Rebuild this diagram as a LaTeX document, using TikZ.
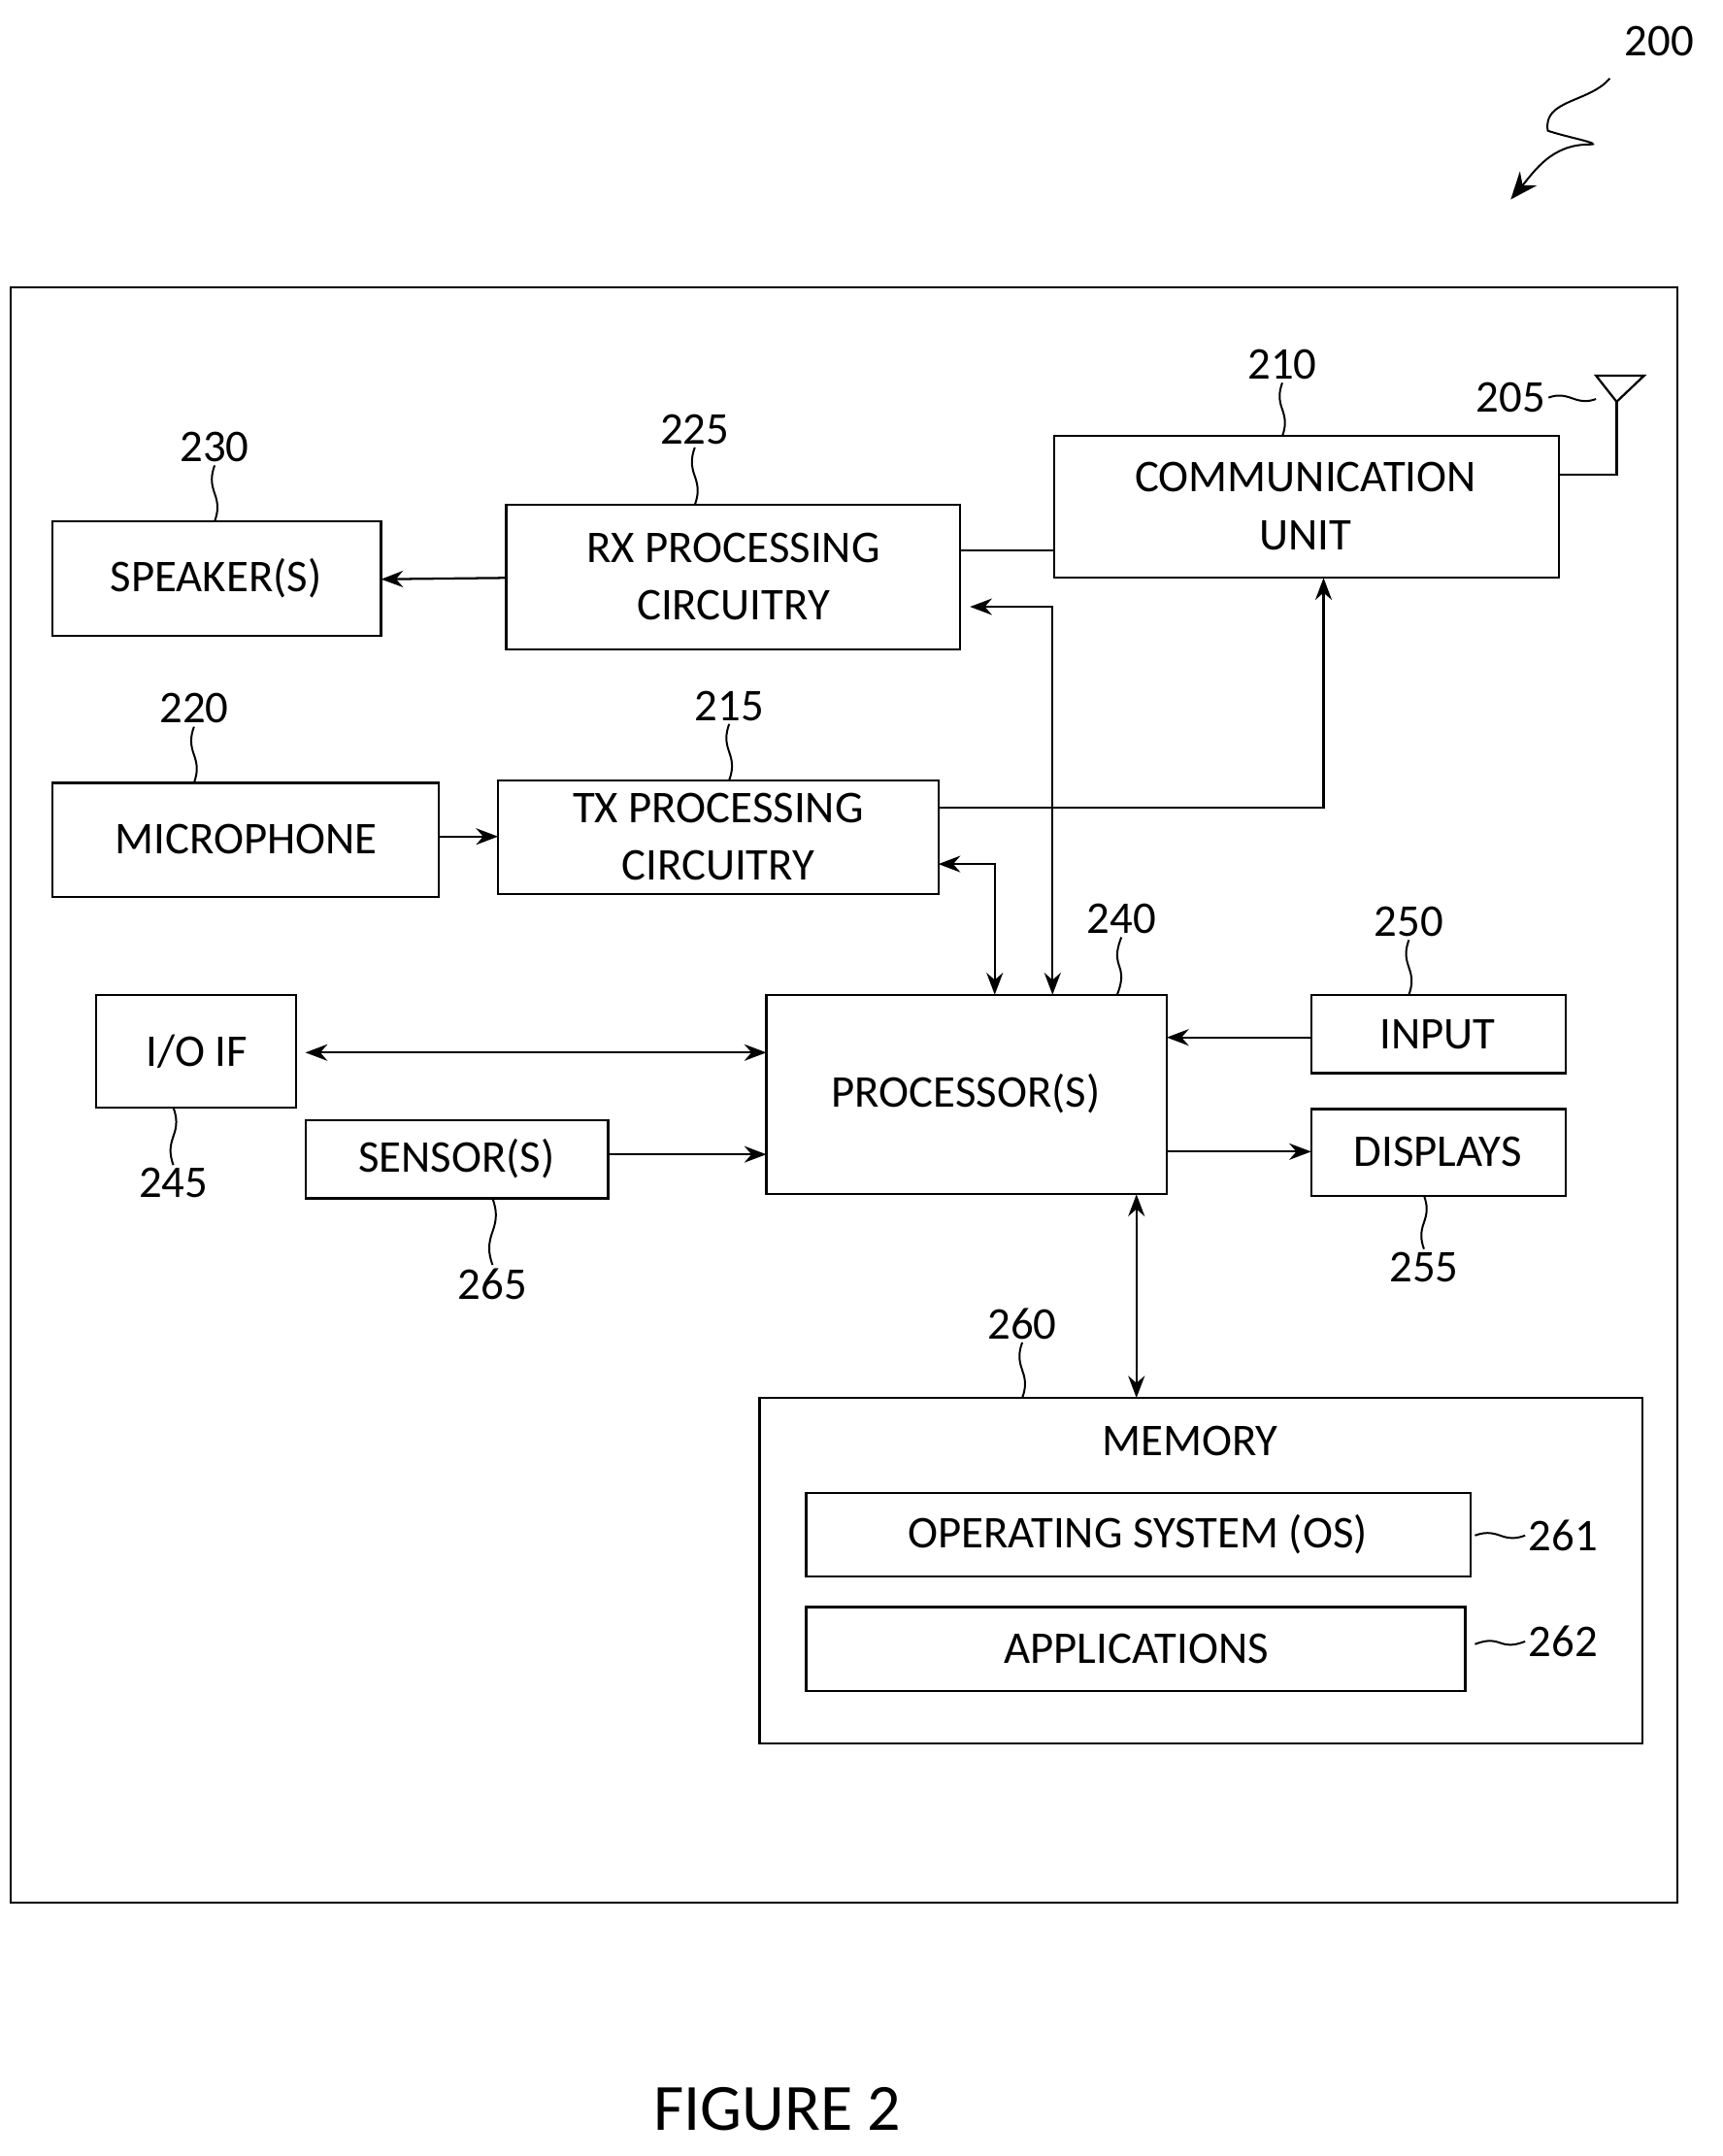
\documentclass[tikz,border=0pt]{standalone}
\usepackage{fontspec}
\setmainfont{Carlito}
\usetikzlibrary{arrows.meta,calc}
\begin{document}
\begin{tikzpicture}[x=0.5pt,y=-0.5pt,
  box/.style={draw,line width=0.8pt},
  txt/.style={font=\fontsize{16.5}{19}\selectfont,align=center},
  lab/.style={font=\fontsize{16.5}{19}\selectfont,inner sep=1pt},
  ar/.style={line width=0.8pt,-{Stealth[length=8pt,width=6pt]}},
  dar/.style={line width=0.8pt,{Stealth[length=8pt,width=6pt]}-{Stealth[length=8pt,width=6pt]}},
  ln/.style={line width=0.8pt},
  sq/.style={line width=0.7pt}]
\useasboundingbox (0,0) rectangle (1252,1567);
\draw[box] (8,209) rectangle (1219,1383);
% boxes
\draw[box] (38,379) rectangle (277,462); \node[txt] (spk) at (157,420) {SPEAKER(S)};
\draw[box] (368,367) rectangle (698,472); \node[txt] (rx) at (533,419) {RX PROCESSING\\[2pt]CIRCUITRY};
\draw[box] (766,317) rectangle (1133,420); \node[txt] (com) at (949,368) {COMMUNICATION\\[2pt]UNIT};
\draw[box] (38,569) rectangle (319,652); \node[txt] (mic) at (179,610) {MICROPHONE};
\draw[box] (362,567) rectangle (682,650); \node[txt] (tx) at (522,608) {TX PROCESSING\\[2pt]CIRCUITRY};
\draw[box] (70,723) rectangle (215,805); \node[txt] (io) at (143,764) {I/O IF};
\draw[box] (222,814) rectangle (442,871); \node[txt] (sen) at (332,842) {SENSOR(S)};
\draw[box] (557,723) rectangle (848,868); \node[txt] (pro) at (702,795) {PROCESSOR(S)};
\draw[box] (953,723) rectangle (1138,780); \node[txt] (inp) at (1045,752) {INPUT};
\draw[box] (953,806) rectangle (1138,869); \node[txt] (dis) at (1045,837) {DISPLAYS};
\draw[box] (552,1016) rectangle (1194,1267); \node[txt] (mem) at (865,1047) {MEMORY};
\draw[box] (586,1085) rectangle (1069,1146); \node[txt] (os) at (827,1115) {OPERATING SYSTEM (OS)};
\draw[box] (586,1168) rectangle (1065,1229); \node[txt] (app) at (826,1198) {APPLICATIONS};
% antenna
\coordinate (a1) at (1133,345); \coordinate (a2) at (1175,345); \coordinate (a3) at (1175,292);
\draw[ln] (a1) -- (a2) -- (a3);
\draw[ln] (1160,273) -- (1195,273) -- (a3) -- cycle;
\coordinate (a4) at (1160,290);
% connectors
\draw[ar] (368,420) -- (277,421);
\draw[ln] (698,400) -- (766,400);
\draw[ar] (319,608) -- (362,608);
\draw[ar] (682,587) -| (962,420);
\draw[dar] (705,441) -| (765,723);
\draw[dar] (682,628) -| (723,723);
\draw[dar] (222,765) -- (557,765);
\draw[ar] (442,839) -- (557,839);
\draw[ar] (953,754) -- (848,754);
\draw[ar] (848,837) -- (953,837);
\draw[dar] (826,868) -- (826,1016);
% labels with squiggles
\newcommand\vsq[4]{\node[lab] (#1) at (#2) {#4};
  \draw[sq] (#1.south) to[out=-110,in=110] ($(#1.south)!.5!(#3)$) to[out=-70,in=70] (#3);}
\newcommand\usq[4]{\node[lab] (#1) at (#2) {#4};
  \draw[sq] (#1.north) to[out=110,in=-110] ($(#1.north)!.5!(#3)$) to[out=70,in=-70] (#3);}
\vsq{l230}{156,325}{156,379}{230}
\vsq{l225}{505,312}{505,367}{225}
\vsq{l210}{932,265}{932,317}{210}
\vsq{l220}{141,515}{141,569}{220}
\vsq{l215}{530,513}{530,567}{215}
\vsq{l240}{815,668}{812,723}{240}
\vsq{l250}{1024,670}{1024,723}{250}
\vsq{l260}{743,962}{743,1016}{260}
\usq{l245}{126,860}{126,805}{245}
\usq{l265}{358,933}{358,871}{265}
\usq{l255}{1035,921}{1035,869}{255}
\node[lab] (l205) at (1098,289) {205};
\draw[sq] (l205.east) to[out=20,in=160] ($(l205.east)!.5!(a4)$) to[out=-20,in=200] (a4);
\node[lab] (l261) at (1136,1116) {261};
\coordinate (c261) at (1072,1116);
\draw[sq] (c261) to[out=20,in=160] ($(c261)!.5!(l261.west)$) to[out=-20,in=200] (l261.west);
\node[lab] (l262) at (1136,1193) {262};
\coordinate (c262) at (1072,1195);
\draw[sq] (c262) to[out=20,in=160] ($(c262)!.5!(l262.west)$) to[out=-20,in=200] (l262.west);
% 200
\node[lab] (l200) at (1206,30) {200};
\coordinate (s1) at (1170,57); \coordinate (s2) at (1098,145);
\draw[sq,-{Stealth[length=10pt,width=8pt]}] (s1) to[out=230,in=100] (1125,95) to[out=-20,in=0] (1155,105) to[out=180,in=50] (s2);
\node[font=\fontsize{24}{28}\selectfont] (fig) at (565,1533) {FIGURE 2};
\end{tikzpicture}
\end{document}
